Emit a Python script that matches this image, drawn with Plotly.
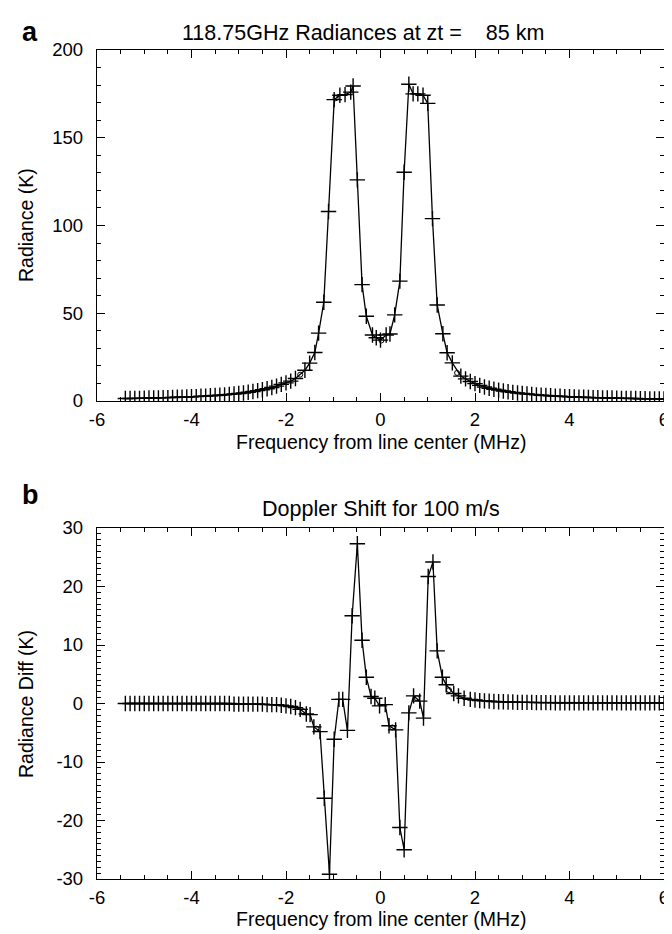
import plotly.graph_objects as go

# ---------------- data: panel a (radiances) ----------------
freq_a = [-5.4, -5.3, -5.2, -5.1, -5.0, -4.9, -4.8, -4.7, -4.6, -4.5, -4.4, -4.3, -4.2, -4.1,
          -4.0, -3.9, -3.8, -3.7, -3.6, -3.5, -3.4, -3.3, -3.2, -3.1, -3.0, -2.9, -2.8, -2.7,
          -2.6, -2.5, -2.4, -2.3, -2.2, -2.1, -2.0, -1.9, -1.8, -1.6, -1.5, -1.39, -1.31,
          -1.2, -1.1, -0.98, -0.86, -0.75, -0.63, -0.58, -0.49, -0.39, -0.3, -0.17, -0.09,
          0.0, 0.12, 0.2, 0.3, 0.41, 0.5, 0.6, 0.69, 0.79, 0.9, 1.0, 1.1, 1.2, 1.32, 1.41,
          1.52, 1.7, 1.8, 1.9, 2.0, 2.1, 2.2, 2.3, 2.4, 2.5, 2.6, 2.7, 2.8, 2.9, 3.0, 3.1,
          3.2, 3.3, 3.4, 3.5, 3.6, 3.7, 3.8, 3.9, 4.0, 4.1, 4.2, 4.3, 4.4, 4.5, 4.6, 4.7,
          4.8, 4.9, 5.0, 5.1, 5.2, 5.3, 5.4, 5.5, 5.6, 5.7, 5.8, 5.9, 6.0]
rad_a = [1.4, 1.4, 1.5, 1.5, 1.6, 1.7, 1.7, 1.8, 1.9, 1.9, 2.0, 2.1, 2.2, 2.3,
         2.4, 2.5, 2.7, 2.8, 3.0, 3.1, 3.3, 3.5, 3.8, 4.0, 4.3, 4.6, 5.0, 5.4,
         5.9, 6.4, 7.0, 7.7, 8.5, 9.5, 10.3, 11.3, 12.8, 17.5, 21.6, 27.6, 38.7,
         56.3, 108.0, 171.7, 174.2, 174.6, 176.0, 179.5, 126.0, 66.3, 48.3, 37.6, 36.0,
         34.7, 37.6, 38.2, 49.1, 68.3, 130.3, 180.5, 175.0, 175.0, 174.2, 169.6, 103.9, 54.7, 38.3, 27.5,
         21.7, 14.2, 12.6, 11.1, 9.9, 8.9, 8.0, 7.3, 6.7, 6.2, 5.7, 5.3, 4.9, 4.6, 4.3, 4.0,
         3.8, 3.5, 3.3, 3.1, 3.0, 2.8, 2.7, 2.5, 2.4, 2.3, 2.2, 2.1, 2.0, 1.9, 1.9, 1.8,
         1.7, 1.7, 1.6, 1.5, 1.5, 1.4, 1.4, 1.3, 1.3, 1.2, 1.2, 1.2, 1.1]
circ_freq_a = [-1.7, -0.95, 0.02, 1.62]
circ_rad_a = [15.0, 172.5, 34.5, 16.0]

# ---------------- data: panel b (Doppler shift difference) ----------------
freq_b = [-5.4, -5.3, -5.2, -5.1, -5.0, -4.9, -4.8, -4.7, -4.6, -4.5, -4.4, -4.3, -4.2, -4.1,
          -4.0, -3.9, -3.8, -3.7, -3.6, -3.5, -3.4, -3.3, -3.2, -3.1, -3.0, -2.9, -2.8, -2.7,
          -2.6, -2.5, -2.4, -2.3, -2.2, -2.1, -2.0, -1.9, -1.8, -1.7, -1.57, -1.49, -1.41,
          -1.28, -1.19, -1.08, -0.98, -0.88, -0.8, -0.7, -0.6, -0.49, -0.39, -0.3, -0.2,
          -0.12, -0.02, 0.1, 0.18, 0.32, 0.41, 0.5, 0.6, 0.7, 0.83, 0.91, 1.01, 1.11, 1.2,
          1.31, 1.39, 1.55, 1.65, 1.77, 1.9, 2.0, 2.1, 2.2, 2.3, 2.4, 2.5, 2.6, 2.7, 2.8,
          2.9, 3.0, 3.1, 3.2, 3.3, 3.4, 3.5, 3.6, 3.7, 3.8, 3.9, 4.0, 4.1, 4.2, 4.3, 4.4,
          4.5, 4.6, 4.7, 4.8, 4.9, 5.0, 5.1, 5.2, 5.3, 5.4, 5.5, 5.6, 5.7, 5.8, 5.9, 6.0]
diff_b = [0.0, 0.0, 0.0, 0.0, 0.0, 0.0, 0.0, 0.0, 0.0, 0.0, 0.0, 0.0, 0.0, 0.0,
          0.0, 0.0, 0.0, 0.0, 0.0, 0.0, 0.0, 0.0, 0.0, -0.1, -0.1, -0.1, -0.1, -0.1,
          -0.1, -0.1, -0.2, -0.2, -0.2, -0.3, -0.4, -0.5, -0.7, -1.0, -1.8, -1.9, -4.0,
          -4.8, -16.2, -29.2, -6.1, 0.7, 0.7, -4.6, 15.0, 27.3, 10.8, 4.5, 1.2,
          0.9, -0.4, -0.2, -3.8, -4.5, -21.2, -25.0, -1.6, 1.3, 0.4, -2.5, 21.7, 24.2, 9.0,
          4.5, 3.2, 1.7, 1.3, 0.9, 0.7, 0.6, 0.5, 0.45, 0.4, 0.35, 0.3, 0.3, 0.25, 0.25,
          0.2, 0.2, 0.2, 0.2, 0.15, 0.15, 0.15, 0.15, 0.1, 0.1, 0.1, 0.1, 0.1, 0.1, 0.1, 0.1,
          0.1, 0.1, 0.1, 0.1, 0.1, 0.1, 0.1, 0.1, 0.1, 0.1, 0.1, 0.1, 0.1, 0.1, 0.1, 0.1]
circ_freq_b = [-1.64, -1.36, 0.25, 0.77, 1.45]
circ_diff_b = [-1.3, -4.3, -4.1, 0.9, 2.3]

xticks = [-6, -4, -2, 0, 2, 4, 6]
xtick_text = ["-6", "-4", "-2", "0", "2", "4", "6"]
ya_ticks = [0, 50, 100, 150, 200]
yb_ticks = [-30, -20, -10, 0, 10, 20, 30]
yb_text = ["-30", "-20", "-10", "0", "10", "20", "30"]

FONT = "Liberation Sans, Arial, Helvetica, sans-serif"
FS_TICK = 18.5
FS_AXT = 19.5
FS_TITLE = 21.5

fig = go.Figure()

line_style = dict(color="black", width=1.3)
plus_marker = dict(symbol="cross-thin-open", size=11, line=dict(color="black", width=1.4), color="black")
circ_marker = dict(symbol="circle-open", size=5, line=dict(color="black", width=1), color="black")

fig.add_trace(go.Scatter(x=freq_a, y=rad_a, mode="lines+markers", line=line_style,
                         marker=plus_marker, xaxis="x", yaxis="y", showlegend=False))
fig.add_trace(go.Scatter(x=circ_freq_a, y=circ_rad_a, mode="markers", marker=circ_marker,
                         xaxis="x", yaxis="y", showlegend=False))
fig.add_trace(go.Scatter(x=freq_b, y=diff_b, mode="lines+markers", line=line_style,
                         marker=plus_marker, xaxis="x2", yaxis="y2", showlegend=False))
fig.add_trace(go.Scatter(x=circ_freq_b, y=circ_diff_b, mode="markers", marker=circ_marker,
                         xaxis="x2", yaxis="y2", showlegend=False))

# plot area in pixels: x 89..656 ; y 42..871
H, W = 934, 672
L, R, T, B = 89, 16, 42, 63
ph = H - T - B


def py(pix):
    return (H - B - pix) / ph


def px(pix):
    return (pix - L) / (W - L - R)


axis_common = dict(showline=True, linecolor="black", linewidth=1.3, mirror="allticks",
                   ticks="inside", tickcolor="black", tickwidth=1.1, ticklen=8,
                   showgrid=False, zeroline=False,
                   tickfont=dict(family=FONT, size=FS_TICK, color="black"))
minor_common = dict(ticklen=4, ticks="inside", tickcolor="black", tickwidth=1.1)

fig.update_layout(
    width=W, height=H,
    margin=dict(l=L, r=R, t=T, b=B),
    paper_bgcolor="white", plot_bgcolor="white",
    xaxis=dict(domain=[0, 1], anchor="y", range=[-6, 6], tickvals=xticks, ticktext=xtick_text,
               ticklabelstandoff=2, minor=dict(dtick=0.5, tick0=0, **minor_common), **axis_common),
    yaxis=dict(domain=[py(393), 1], anchor="x", range=[0, 200], tickvals=ya_ticks,
               ticklabelstandoff=9, minor=dict(dtick=10, tick0=0, **minor_common), **axis_common),
    xaxis2=dict(domain=[0, 1], anchor="y2", range=[-6, 6], tickvals=xticks, ticktext=xtick_text,
                ticklabelstandoff=2, minor=dict(dtick=0.5, tick0=0, **minor_common), **axis_common),
    yaxis2=dict(domain=[0, py(520)], anchor="x2", range=[-30, 30], tickvals=yb_ticks, ticktext=yb_text,
                ticklabelstandoff=9, minor=dict(dtick=1, tick0=0, **minor_common), **axis_common),
)

title_font = dict(family=FONT, size=FS_TITLE, color="black")
axt_font = dict(family=FONT, size=FS_AXT, color="black")

fig.add_annotation(text="118.75GHz Radiances at zt =\u00a0\u00a0\u00a0\u00a085 km",
                   xref="paper", yref="paper", x=px(172), y=py(25), xanchor="left", yanchor="middle",
                   showarrow=False, font=title_font)
fig.add_annotation(text="Doppler Shift for 100 m/s", xref="paper", yref="paper", x=0.5, y=py(501),
                   xanchor="center", yanchor="middle", showarrow=False, font=title_font)
fig.add_annotation(text="Frequency from line center (MHz)", xref="paper", yref="paper", x=0.5,
                   y=py(434), xanchor="center", yanchor="middle", showarrow=False, font=axt_font)
fig.add_annotation(text="Frequency from line center (MHz)", xref="paper", yref="paper", x=0.5,
                   y=py(911), xanchor="center", yanchor="middle", showarrow=False, font=axt_font)

fig.add_annotation(text="Radiance (K)", xref="paper", yref="paper", x=px(18), y=py(217),
                   textangle=-90, showarrow=False, font=axt_font, xanchor="center", yanchor="middle")
fig.add_annotation(text="Radiance Diff (K)", xref="paper", yref="paper", x=px(18), y=py(696),
                   textangle=-90, showarrow=False, font=axt_font, xanchor="center", yanchor="middle")
fig.add_annotation(text="<b>a</b>", xref="paper", yref="paper", x=px(22), y=py(24),
                   showarrow=False, font=dict(family=FONT, size=27, color="black"),
                   xanchor="center", yanchor="middle")
fig.add_annotation(text="<b>b</b>", xref="paper", yref="paper", x=px(22), y=py(487),
                   showarrow=False, font=dict(family=FONT, size=27, color="black"),
                   xanchor="center", yanchor="middle")

fig.write_html("out.html")
